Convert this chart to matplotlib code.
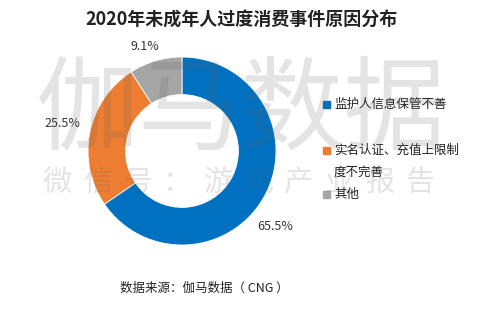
import numpy as np
import matplotlib
matplotlib.use("Agg")
import matplotlib.pyplot as plt

plt.rcParams['font.family'] = ['Noto Sans CJK SC', 'DejaVu Sans']

title = "2020年未成年人过度消费事件原因分布"
categories = ["监护人信息保管不善", "实名认证、充值上限制\n度不完善", "其他"]
values = [65.5, 25.5, 9.1]
colors = ["#0070C0", "#ED7D31", "#A5A5A5"]
value_labels = ["65.5%", "25.5%", "9.1%"]
source = "数据来源：伽马数据（ CNG ）"
wm_main = "伽马数据"
wm_sub = "微信号：游戏产业报告"

W, H = 500, 309
fig = plt.figure(figsize=(W / 100, H / 100), dpi=100)
fig.patch.set_facecolor("white")

# donut axes: center (182,151) px, radius 94 px
cx, cy, r = 182, 151, 94
ax = fig.add_axes([(cx - r) / W, (H - cy - r) / H, 2 * r / W, 2 * r / H])
wedges, _ = ax.pie(values, colors=colors, startangle=90, counterclock=False,
                   radius=1.0, wedgeprops=dict(width=0.4, edgecolor="white", linewidth=0.6))
ax.set_xlim(-1, 1)
ax.set_ylim(-1, 1)
ax.set_aspect("auto")
ax.axis("off")

# value labels (positions chosen per label, Excel best-fit style)
label_pos = [(0.99, -0.80), (-1.27, 0.29), (-0.40, 1.11)]
for (lx, ly), t in zip(label_pos, value_labels):
    ax.text(lx, ly, t, ha="center", va="center", fontsize=9, color="#333333", clip_on=False)

# title
fig.text(242 / W, 1 - 20 / H, title, ha="center", va="center", fontsize=13,
         fontweight="bold", color="#222222")

# legend
leg_items = [(104, 0), (150, 1), (194, 2)]
for y, i in leg_items:
    fig.patches.append(plt.Rectangle((323 / W, 1 - (y + 4) / H), 7 / W, 7 / H,
                                     transform=fig.transFigure, color=colors[i]))
    lines = categories[i].split("\n")
    for k, ln in enumerate(lines):
        fig.text(334 / W, 1 - (y + 22 * k) / H, ln, ha="left", va="center",
                 fontsize=9, color="#222222")

# source
fig.text(120 / W, 1 - 288 / H, source, ha="left", va="center", fontsize=9, color="#222222")

# watermark
fig.text(241 / W, 1 - 112 / H, wm_main, ha="center", va="center", fontsize=74,
         fontweight="light", color="#606060", alpha=0.17, zorder=10)
for i, ch in enumerate(wm_sub):
    fig.text((57 + 40.3 * i) / W, 1 - 183 / H, ch, ha="center", va="center",
             fontsize=21, fontweight="light", color="#606060", alpha=0.17, zorder=10)

fig.savefig("out.png", dpi=100)
